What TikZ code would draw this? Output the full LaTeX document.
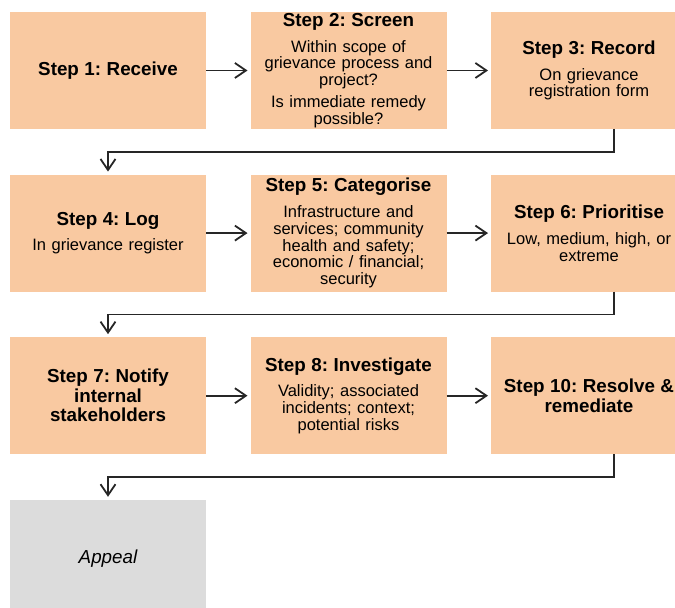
\documentclass[tikz,border=0pt]{standalone}
\usepackage{fontspec}
\setmainfont{Liberation Sans}
\usepackage{tikz}
\usetikzlibrary{positioning}
\usetikzlibrary{arrows.meta}
\frenchspacing
\definecolor{peach}{HTML}{F9C9A1}
\definecolor{appealgrey}{HTML}{DCDCDC}
\definecolor{linegrey}{HTML}{262626}
\tikzset{stage node/.style={rectangle,fill=peach,minimum width=98pt,minimum height=58.5pt,inner sep=0pt,outer sep=0pt,text width=92pt,align=center,font=\fontsize{8.25}{8.4}\selectfont},
appeal node/.style={stage node,fill=appealgrey,font=\fontsize{9.4}{9.75}\selectfont\itshape},}
\newcommand{\stagetitle}[1]{{\fontsize{9.4}{9.75}\selectfont\bfseries #1\par}}

\begin{document}
\begin{tikzpicture}[->, >={Straight Barb[length=5.5pt,width=7.5pt]}, node distance=22.8pt and 22.25pt, line width=0.9pt]
	\useasboundingbox (-54pt,35.25pt) rectangle (283.5pt,-268.75pt);

	\node[stage node] (rcv) at (0,0) {\stagetitle{Step 1: Receive}};
	\node[stage node] (scr) [right = of rcv] {\stagetitle{Step 2: Screen}\vspace{4.5pt}Within scope of\\ grievance process and\\ project?\\[2.5pt] Is immediate remedy\\ possible?};
	\node[stage node] (rec) [right = of scr] {\stagetitle{Step 3: Record}\vspace{4.5pt}On grievance\\ registration form};
	\node[stage node] (log) [below = of rcv] {\stagetitle{Step 4: Log}\vspace{4.5pt}In grievance register};
	\node[stage node] (cat) [right = of log] {\stagetitle{Step 5: Categorise}\vspace{4.5pt}Infrastructure and\\ services; community\\ health and safety;\\ economic / financial;\\ security};
	\node[stage node] (pri) [right = of cat] {\stagetitle{Step 6: Prioritise}\vspace{4.5pt}Low, medium, high, or\\ extreme};
	\node[stage node] (ntf) [below = of log] {\stagetitle{Step 7: Notify\\ internal\\ stakeholders}};
	\node[stage node] (inv) [right = of ntf] {\stagetitle{Step 8: Investigate}\vspace{4.5pt}Validity; associated\\ incidents; context;\\ potential risks};
	\node[stage node] (res) [right = of inv] {\stagetitle{Step 10: Resolve \&\\ remediate}};
	\node[appeal node] (apl) [below = of ntf] {Appeal};

	\path[draw=linegrey, shorten >=1.5pt]
	(rcv) edge (scr)
	(scr) edge (rec)
	(log) edge (cat)
	(cat) edge (pri)
	(ntf) edge (inv)
	(inv) edge (res);

	% row to row
	\draw[linegrey, shorten >=1.5pt] ([xshift=12.5pt]rec.south) -- ++(0,-11.5pt) -| (log.north);
	\draw[linegrey, shorten >=1.5pt] ([xshift=12.5pt]pri.south) -- ++(0,-11.5pt) -| (ntf.north);
	\draw[linegrey, shorten >=1.5pt] ([xshift=12.5pt]res.south) -- ++(0,-11.5pt) -| (apl.north);
\end{tikzpicture}
\end{document}
